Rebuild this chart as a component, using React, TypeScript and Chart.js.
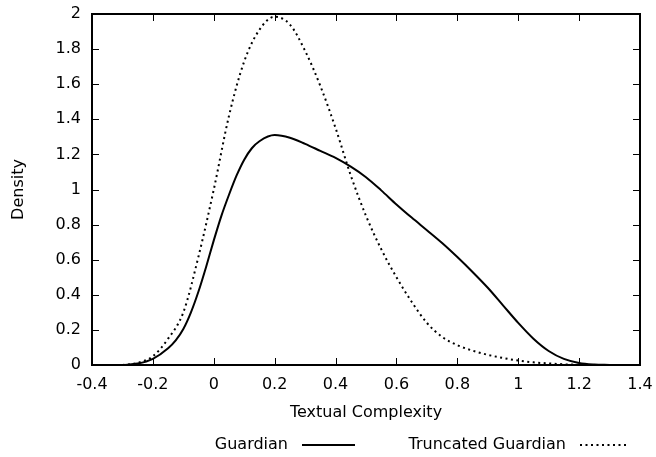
import React, { useEffect, useRef } from "react";
import { Chart, registerables } from "chart.js";

Chart.register(...registerables);

const seriesNames = ["Guardian", "Truncated Guardian"];

const guardianX = [-0.3, -0.25, -0.2, -0.15, -0.125, -0.1, -0.075, -0.05, -0.025, 0, 0.025, 0.05, 0.075, 0.1, 0.125, 0.15, 0.2, 0.25, 0.3, 0.35, 0.4, 0.45, 0.5, 0.55, 0.6, 0.65, 0.7, 0.75, 0.8, 0.85, 0.9, 0.95, 1.0, 1.05, 1.1, 1.15, 1.2, 1.25, 1.3];
const guardianY = [0, 0.008, 0.035, 0.095, 0.14, 0.205, 0.3, 0.42, 0.56, 0.71, 0.85, 0.97, 1.08, 1.17, 1.235, 1.275, 1.31, 1.295, 1.26, 1.22, 1.18, 1.13, 1.07, 0.995, 0.915, 0.84, 0.768, 0.695, 0.615, 0.53, 0.44, 0.34, 0.24, 0.15, 0.08, 0.035, 0.012, 0.003, 0];

const truncX = [-0.3, -0.25, -0.2, -0.15, -0.1, -0.05, 0, 0.05, 0.1, 0.15, 0.2, 0.25, 0.3, 0.35, 0.4, 0.45, 0.5, 0.55, 0.6, 0.65, 0.7, 0.75, 0.8, 0.85, 0.9, 0.95, 1.0, 1.05, 1.1, 1.15, 1.2, 1.25];
const truncY = [0, 0.012, 0.05, 0.15, 0.3, 0.62, 1.0, 1.42, 1.73, 1.91, 1.985, 1.94, 1.79, 1.59, 1.35, 1.08, 0.85, 0.66, 0.5, 0.36, 0.24, 0.16, 0.113, 0.082, 0.058, 0.04, 0.025, 0.015, 0.009, 0.004, 0.001, 0];

const xTicks = [-0.4, -0.2, 0, 0.2, 0.4, 0.6, 0.8, 1.0, 1.2, 1.4];
const yTicks = [0, 0.2, 0.4, 0.6, 0.8, 1.0, 1.2, 1.4, 1.6, 1.8, 2.0];

const xTitle = "Textual Complexity";
const yTitle = "Density";

const FONT = "'DejaVu Sans', 'Liberation Sans', Arial, sans-serif";
const FSIZE = 16;

const fmt = (v: number) => String(Number(v.toFixed(1)));

const noPad = (s: any) => {
  s.paddingTop = 0;
  s.paddingBottom = 0;
  s.paddingLeft = 0;
  s.paddingRight = 0;
};

const framePlugin = {
  id: "gnuFrame",
  afterDatasetsDraw(chart: any) {
    const { ctx, chartArea } = chart;
    const { left, right, top, bottom } = chartArea;
    const xs = chart.scales.x;
    const ys = chart.scales.y;
    ctx.save();
    ctx.strokeStyle = "#000";
    ctx.lineWidth = 1;
    const tl = 7;
    ctx.beginPath();
    xTicks.forEach((v) => {
      const px = Math.round(xs.getPixelForValue(v)) + 0.5;
      ctx.moveTo(px, bottom);
      ctx.lineTo(px, bottom - tl);
      ctx.moveTo(px, top);
      ctx.lineTo(px, top + tl);
    });
    yTicks.forEach((v) => {
      const py = Math.round(ys.getPixelForValue(v)) + 0.5;
      ctx.moveTo(left, py);
      ctx.lineTo(left + tl, py);
      ctx.moveTo(right, py);
      ctx.lineTo(right - tl, py);
    });
    ctx.stroke();
    ctx.lineWidth = 2;
    ctx.strokeRect(left, top, right - left, bottom - top);
    ctx.restore();
  },
  afterDraw(chart: any) {
    const { ctx } = chart;
    const ds = chart.data.datasets;
    const y = 445;
    ctx.save();
    ctx.font = `${FSIZE}px ${FONT}`;
    ctx.fillStyle = "#000";
    ctx.textAlign = "right";
    ctx.textBaseline = "middle";
    const items = [
      { textRight: 288, x0: 302, x1: 355 },
      { textRight: 566, x0: 580, x1: 627 },
    ];
    items.forEach((it, i) => {
      ctx.fillText(ds[i].label, it.textRight, y);
      ctx.beginPath();
      ctx.strokeStyle = "#000";
      ctx.lineWidth = ds[i].borderWidth;
      ctx.setLineDash(ds[i].borderDash || []);
      ctx.moveTo(it.x0, y);
      ctx.lineTo(it.x1, y);
      ctx.stroke();
    });
    ctx.restore();
  },
};

export default function App() {
  const ref = useRef<HTMLCanvasElement>(null);
  useEffect(() => {
    if (!ref.current) return;
    Chart.defaults.font.family = FONT;
    Chart.defaults.font.size = FSIZE;
    Chart.defaults.color = "#000";
    const chart = new Chart(ref.current, {
      type: "line",
      data: {
        datasets: [
          {
            label: seriesNames[0],
            data: guardianX.map((x, i) => ({ x, y: guardianY[i] })),
            borderColor: "#000",
            borderWidth: 2,
            pointRadius: 0,
            cubicInterpolationMode: "monotone",
            fill: false,
          },
          {
            label: seriesNames[1],
            data: truncX.map((x, i) => ({ x, y: truncY[i] })),
            borderColor: "#000",
            borderWidth: 2,
            borderDash: [2, 3.5],
            pointRadius: 0,
            cubicInterpolationMode: "monotone",
            fill: false,
          },
        ],
      },
      options: {
        animation: false,
        responsive: true,
        maintainAspectRatio: false,
        layout: { padding: { left: 0, right: 16, top: 14, bottom: 32 } },
        plugins: { legend: { display: false }, tooltip: { enabled: false } },
        scales: {
          x: {
            type: "linear",
            min: -0.4,
            max: 1.4,
            afterBuildTicks: (s: any) => {
              s.ticks = xTicks.map((v) => ({ value: v }));
            },
            afterFit: (s: any) => {
              s.height = 60;
              noPad(s);
            },
            grid: { display: false, drawTicks: false },
            border: { display: false },
            ticks: { padding: 10, maxRotation: 0, autoSkip: false, callback: (v: any) => fmt(Number(v)) },
            title: { display: true, text: xTitle, padding: { top: 0, bottom: 3 } },
          },
          y: {
            type: "linear",
            min: 0,
            max: 2,
            afterBuildTicks: (s: any) => {
              s.ticks = yTicks.map((v) => ({ value: v }));
            },
            afterFit: (s: any) => {
              s.width = 92;
              noPad(s);
            },
            grid: { display: false, drawTicks: false },
            border: { display: false },
            ticks: { padding: 11, autoSkip: false, callback: (v: any) => fmt(Number(v)) },
            title: { display: true, text: yTitle, padding: { top: 9, bottom: 0 } },
          },
        },
      },
      plugins: [framePlugin],
    } as any);
    return () => chart.destroy();
  }, []);
  return (
    <div style={{ position: "fixed", left: 0, top: 0, width: 656, height: 457, background: "#fff" }}>
      <canvas ref={ref} />
    </div>
  );
}
